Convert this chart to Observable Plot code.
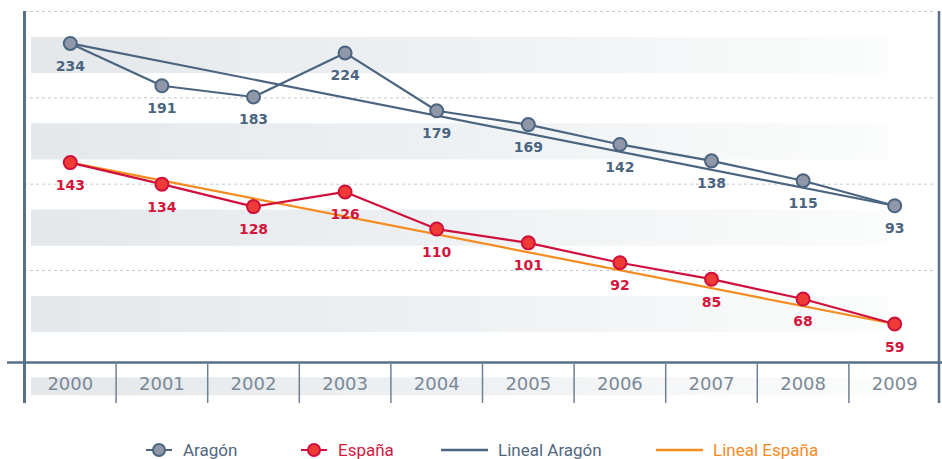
<!DOCTYPE html>
<html>
<head>
<meta charset="utf-8">
<script src="https://cdn.jsdelivr.net/npm/d3@7"></script>
<script src="https://cdn.jsdelivr.net/npm/@observablehq/plot@0.6"></script>
<style>
  html, body { margin: 0; padding: 0; background: #fff; }
  #wrap { position: relative; width: 942px; height: 459px; }
  #chart svg { display: block; }
  #legend { position: absolute; left: 0; top: 420px; width: 942px; height: 39px;
            font-family: Roboto, "Liberation Sans", sans-serif; font-size: 17px; }
  .item { position: absolute; top: 30px; transform: translateY(-50%); display: flex; align-items: center; white-space: nowrap; }
  .item svg { display: block; margin-right: 4px; }
</style>
</head>
<body>
<div id="wrap">
  <div id="chart"></div>
  <div id="legend"></div>
</div>
<script>
// ---- data ----
const years = [2000, 2001, 2002, 2003, 2004, 2005, 2006, 2007, 2008, 2009];
// printed labels
const aragonLabels = [234, 191, 183, 224, 179, 169, 142, 138, 115, 93];
const espanaLabels = [143, 134, 128, 126, 110, 101, 92, 85, 68, 59];
// plotted height of each marker on the chart's (unlabelled) vertical scale
const aragonLevel = [363, 314, 301, 352, 285, 269, 246, 227, 204, 175];
const espanaLevel = [225, 200, 174, 191, 148, 132, 109, 90, 67, 38];
// linear trend lines (start and end)
const trendYears = [2000, 2009];
const aragonTrend = [363, 175];
const espanaTrend = [225, 38];
const gridLevels = [100, 200, 300, 400];
const bandLevels = [[28, 70], [128, 170], [228, 270], [328, 370]];

// ---- colors ----
const cAragon = "#4b6580", cAragonFill = "#8f97a8";
const cEspana = "#d0103c", cEspanaFill = "#ef3b35";
const cOrange = "#f68b1f";
const cAxis = "#587088";

const aragon = years.map((y, i) => ({year: y, level: aragonLevel[i], label: aragonLabels[i]}));
const espana = years.map((y, i) => ({year: y, level: espanaLevel[i], label: espanaLabels[i]}));
const trendA = trendYears.map((y, i) => ({year: y, level: aragonTrend[i]}));
const trendE = trendYears.map((y, i) => ({year: y, level: espanaTrend[i]}));
const bands = bandLevels.map(([a, b]) => ({y1: a, y2: b}));
const xLo = years[0] - 0.5, xHi = years[years.length - 1] + 0.5;
const separators = years.slice(0, -1).map(y => y + 0.5);

const axisLevel = -6.6, tickBottom = -54, yearLevel = -32;

const svg = Plot.plot({
  width: 942,
  height: 420,
  marginLeft: 24, marginRight: 2, marginTop: 11, marginBottom: 20,
  x: {type: "linear", domain: [xLo, xHi], range: [24, 940], axis: null},
  y: {domain: [0, 400], range: [356.33, 11], axis: null},
  marks: [
    // shaded bands
    Plot.rect(bands, {x1: xLo, x2: xHi, y1: "y1", y2: "y2", fill: "url(#bandGrad)", insetLeft: 7, insetRight: 53}),
    Plot.rect([{y1: -24.3, y2: -45.2}], {x1: xLo, x2: xHi, y1: "y1", y2: "y2", fill: "url(#bandGrad)", insetLeft: 7, insetRight: 53}),
    // dashed gridlines
    Plot.ruleY(gridLevels, {x1: xLo, x2: xHi, stroke: "#c3c9cf", strokeWidth: 1, strokeDasharray: "3,3", insetRight: 6}),
    // axes frame
    Plot.ruleY([axisLevel], {x1: xLo, x2: xHi, stroke: cAxis, strokeWidth: 2.5, insetLeft: -17, insetRight: -2}),
    Plot.ruleX([xLo], {y1: tickBottom, y2: 400, stroke: cAxis, strokeWidth: 3}),
    Plot.ruleX([xHi], {y1: tickBottom, y2: 400, stroke: cAxis, strokeWidth: 2.5, dx: -1.5}),
    Plot.ruleX(separators, {y1: tickBottom, y2: axisLevel, stroke: "#6e8194", strokeWidth: 1.5}),
    // year labels
    Plot.text(years, {x: d => d, y: yearLevel, text: d => String(d), fontSize: 18,
      fontFamily: "DejaVu Sans", fontWeight: "normal", fill: "#7b8997", textAnchor: "middle", lineAnchor: "middle"}),
    // trend lines
    Plot.line(trendA, {x: "year", y: "level", stroke: cAragon, strokeWidth: 2.2}),
    Plot.line(trendE, {x: "year", y: "level", stroke: cOrange, strokeWidth: 2.2}),
    // series
    Plot.line(aragon, {x: "year", y: "level", stroke: cAragon, strokeWidth: 2.2}),
    Plot.line(espana, {x: "year", y: "level", stroke: cEspana, strokeWidth: 2.2}),
    Plot.dot(aragon, {x: "year", y: "level", r: 6.5, fill: cAragonFill, stroke: cAragon, strokeWidth: 2}),
    Plot.dot(espana, {x: "year", y: "level", r: 6.5, fill: cEspanaFill, stroke: cEspana, strokeWidth: 2}),
    // value labels
    Plot.text(aragon, {x: "year", y: "level", text: "label", dy: 23, fill: cAragon, fontSize: 14,
      fontWeight: "bold", fontFamily: "DejaVu Sans", textAnchor: "middle", lineAnchor: "middle"}),
    Plot.text(espana, {x: "year", y: "level", text: "label", dy: 23, fill: "#d4163c", fontSize: 14,
      fontWeight: "bold", fontFamily: "DejaVu Sans", textAnchor: "middle", lineAnchor: "middle"})
  ]
});

d3.select(svg).insert("defs", ":first-child").html(
  `<linearGradient id="bandGrad" x1="0" y1="0" x2="1" y2="0">
     <stop offset="0" stop-color="#e4e8eb"/>
     <stop offset="0.5" stop-color="#eef1f3"/>
     <stop offset="1" stop-color="#fbfcfc"/>
   </linearGradient>`);
document.getElementById("chart").appendChild(svg);

// ---- legend ----
const legendItems = [
  {name: "Aragón", left: 146, kind: "dot", stroke: cAragon, fill: cAragonFill, text: "#51687f"},
  {name: "España", left: 301, kind: "dot", stroke: cEspana, fill: cEspanaFill, text: "#d4193f"},
  {name: "Lineal Aragón", left: 441, kind: "line", stroke: cAragon, text: "#51687f"},
  {name: "Lineal España", left: 656, kind: "line", stroke: cOrange, text: "#f68b1f"}
];
const legend = d3.select("#legend");
for (const it of legendItems) {
  const div = legend.append("div").attr("class", "item").style("left", it.left + "px");
  if (it.kind === "dot") {
    const s = div.append("svg").attr("width", 28).attr("height", 18);
    s.append("line").attr("x1", 0).attr("x2", 26).attr("y1", 9).attr("y2", 9)
      .attr("stroke", it.stroke).attr("stroke-width", 2);
    s.append("circle").attr("cx", 13).attr("cy", 9).attr("r", 6)
      .attr("fill", it.fill).attr("stroke", it.stroke).attr("stroke-width", 2);
    div.select("svg").style("margin-right", "9px");
  } else {
    const s = div.append("svg").attr("width", 48).attr("height", 18);
    s.append("line").attr("x1", 0).attr("x2", 47).attr("y1", 9).attr("y2", 9)
      .attr("stroke", it.stroke).attr("stroke-width", 2.5);
    div.select("svg").style("margin-right", "9px");
  }
  div.append("span").text(it.name).style("color", it.text);
}
</script>
</body>
</html>
